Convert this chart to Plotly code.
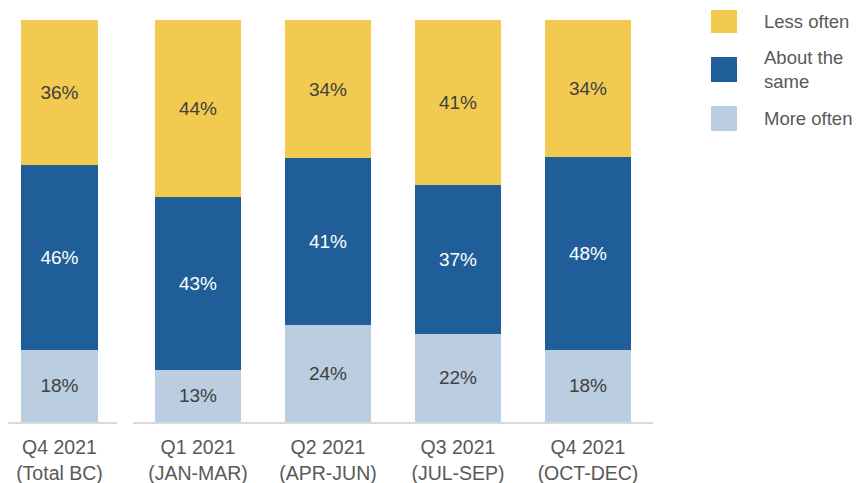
import plotly.graph_objects as go

# chart data
total_label = ["Q4 2021<br>(Total BC)"]
quarter_labels = ["Q1 2021<br>(JAN-MAR)", "Q2 2021<br>(APR-JUN)",
                  "Q3 2021<br>(JUL-SEP)", "Q4 2021<br>(OCT-DEC)"]

series_names = ["More often", "About the same", "Less often"]
total_more = [18]
total_same = [46]
total_less = [36]
quarter_more = [13, 24, 22, 18]
quarter_same = [43, 41, 37, 48]
quarter_less = [44, 34, 41, 34]

colors = {"More often": "#BACDE1", "About the same": "#1F5E99", "Less often": "#F2CA50"}
text_colors = {"More often": "#404040", "About the same": "white", "Less often": "#404040"}
legend_text = {"Less often": "Less often", "About the same": "About the<br>same",
               "More often": "More often"}

# page body adds an 8px offset, so the figure is sized and placed to compensate
OFF = 8
W, H = 861 - OFF, 483 - OFF
font = "Liberation Sans, Arial, sans-serif"


def px(x):
    return max(0, (x - OFF) / W)


def py(y):
    return 1 - (y - OFF) / H


fig = go.Figure()

groups = [
    (total_label, [total_more, total_same, total_less], "x", "y"),
    (quarter_labels, [quarter_more, quarter_same, quarter_less], "x2", "y2"),
]
for cats, vals, xa, ya in groups:
    for name, v in zip(series_names, vals):
        fig.add_trace(go.Bar(
            x=cats, y=v, name=name, xaxis=xa, yaxis=ya,
            marker=dict(color=colors[name], line=dict(width=0)),
            text=[f"{t}%" for t in v], textposition="inside",
            insidetextanchor="middle", textangle=0,
            textfont=dict(family=font, size=19, color=text_colors[name]),
            showlegend=False, hoverinfo="skip",
        ))

# legend drawn by hand (big square swatches)
legend_rows = [("Less often", 10, 33), ("About the same", 57, 82), ("More often", 106, 131)]
for name, top, bot in legend_rows:
    fig.add_shape(type="rect", xref="paper", yref="paper",
                  x0=px(711), x1=px(737), y0=py(bot), y1=py(top),
                  fillcolor=colors[name], line=dict(width=0))
    fig.add_annotation(xref="paper", yref="paper", x=px(762), y=py((top + bot) / 2),
                       text=legend_text[name], showarrow=False, xanchor="left", yanchor="middle",
                       align="left", font=dict(family=font, size=18.5, color="#595959"))

y_dom = [py(422), py(20)]
axis_common = dict(type="category", showline=True, linecolor="#D9D9D9", linewidth=1.5,
                   ticks="", showgrid=False, zeroline=False, ticklabelstandoff=7,
                   tickfont=dict(family=font, size=19.5, color="#595959"))
fig.update_layout(
    width=W, height=H, margin=dict(l=0, r=0, t=0, b=0),
    plot_bgcolor="white", paper_bgcolor="white",
    barmode="stack", barnorm="percent", bargap=0.34,
    xaxis=dict(domain=[0, px(117)], range=[-0.441, 0.493], anchor="y", **axis_common),
    xaxis2=dict(domain=[px(133), px(653)], anchor="y2", **axis_common),
    yaxis=dict(domain=y_dom, range=[0, 100], visible=False, anchor="x"),
    yaxis2=dict(domain=y_dom, range=[0, 100], visible=False, anchor="x2"),
    font=dict(family=font),
)

fig.write_html("out.html")
